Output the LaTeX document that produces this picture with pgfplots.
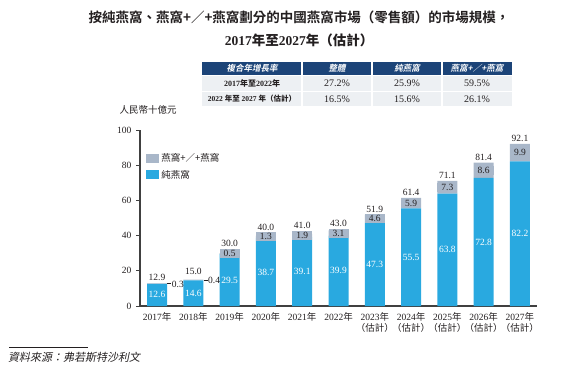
\documentclass[border=0pt]{standalone}
\usepackage{fontspec}
\setmainfont{Liberation Serif}
\newfontfamily\cjk{Noto Sans CJK TC}
\newfontfamily\cjkb{Noto Sans CJK TC Bold}
\newfontfamily\cjki{Noto Sans CJK TC}[FakeSlant=0.2]
\newfontfamily\cjkbi{Noto Sans CJK TC Bold}[FakeSlant=0.2]
\usepackage{pgfplots}
\usepackage{pgfplotstable}
\pgfplotsset{compat=1.18}
\definecolor{barblue}{HTML}{29A9E0}
\definecolor{bargray}{HTML}{A9B7C9}
\definecolor{navy}{HTML}{1C4478}
\definecolor{rowgray}{HTML}{EDF0F3}
\definecolor{axisgray}{HTML}{404040}
\definecolor{txt}{HTML}{231F20}
\newcommand\C[1]{{\cjk #1}}
\newcommand\CB[1]{{\cjkb #1}}
\tikzset{
  bl/.style={text=white, font=\fontsize{9.5}{10}\selectfont},
  gl/.style={text=txt, fill=bargray, minimum width=20pt, minimum height=9pt, inner sep=0pt, font=\fontsize{9.5}{10}\selectfont},
  tl/.style={text=txt, anchor=south, inner sep=1pt, font=\fontsize{9.5}{10}\selectfont},
}
\pgfplotstableread{
x blue gray total
0 12.6 0.3 12.9
1 14.6 0.4 15.0
2 29.5 0.5 30.0
3 38.7 1.3 40.0
4 39.1 1.9 41.0
5 39.9 3.1 43.0
6 47.3 4.6 51.9
7 55.5 5.9 61.4
8 63.8 7.3 71.1
9 72.8 8.6 81.4
10 82.2 9.9 92.1
}\data
\begin{document}
\begin{tikzpicture}
\path[use as bounding box] (0,0) rectangle (572pt,-367pt);
\begin{scope}[x=1pt,y=-1pt]
% title
\node[font=\cjkb\fontsize{13.5}{15}\selectfont, text=txt] at (299,17) {按純燕窩、燕窩+／+燕窩劃分的中國燕窩市場（零售額）的市場規模，};
\node[font=\fontsize{13.5}{15}\selectfont\bfseries, text=txt] at (299,40) {2017\CB{年至}2027\CB{年（估計）}};
% table
\fill[navy] (202,62) rectangle (512,75);
\fill[rowgray] (202,76) rectangle (512,90.5);
\fill[rowgray] (202,91.5) rectangle (512,106);
\foreach \xx in {302,372,442} \draw[white, line width=1.2pt] (\xx,62) -- (\xx,106);
\node[text=white, font=\cjkbi\fontsize{8.5}{9}\selectfont] at (252,68.5) {複合年增長率};
\node[text=white, font=\cjkbi\fontsize{8.5}{9}\selectfont] at (337,68.5) {整體};
\node[text=white, font=\cjkbi\fontsize{8.5}{9}\selectfont] at (407,68.5) {純燕窩};
\node[text=white, font=\cjkbi\fontsize{8.5}{9}\selectfont] at (477,68.5) {燕窩+／+燕窩};
\node[text=txt, font=\fontsize{8}{9}\selectfont\bfseries] at (252,83.3) {2017\CB{年至}2022\CB{年}};
\node[text=txt, font=\fontsize{7.5}{9}\selectfont\bfseries] at (252,98.8) {2022 \CB{年至} 2027 \CB{年（估計）}};
\node[text=txt, font=\fontsize{10}{10}\selectfont] at (337,83.3) {27.2\%};
\node[text=txt, font=\fontsize{10}{10}\selectfont] at (407,83.3) {25.9\%};
\node[text=txt, font=\fontsize{10}{10}\selectfont] at (477,83.3) {59.5\%};
\node[text=txt, font=\fontsize{10}{10}\selectfont] at (337,98.8) {16.5\%};
\node[text=txt, font=\fontsize{10}{10}\selectfont] at (407,98.8) {15.6\%};
\node[text=txt, font=\fontsize{10}{10}\selectfont] at (477,98.8) {26.1\%};
% unit label
\node[text=txt, font=\cjk\fontsize{9.5}{11}\selectfont, anchor=west] at (116,110) {人民幣十億元};
% source
\draw[txt, line width=0.6pt] (9,347) -- (88,347);
\node[text=txt, font=\cjki\fontsize{11}{12}\selectfont, anchor=west, inner sep=0pt] at (8,357) {資料來源：弗若斯特沙利文};
\end{scope}
\begin{axis}[
  at={(140pt,-306pt)}, anchor=south west,
  scale only axis, width=397pt, height=176pt,
  xmin=-0.47, xmax=10.47, ymin=0, ymax=100,
  ybar stacked, bar width=20pt,
  axis lines*=left,
  axis line style={axisgray, line width=1.1pt},
  x axis line style={line width=1.4pt},
  xtick=data,
  xticklabels={2017\C{年},2018\C{年},2019\C{年},2020\C{年},2021\C{年},2022\C{年},
    {2023\C{年}\\\C{（估計）}},{2024\C{年}\\\C{（估計）}},{2025\C{年}\\\C{（估計）}},
    {2026\C{年}\\\C{（估計）}},{2027\C{年}\\\C{（估計）}}},
  xticklabel style={align=center, font=\fontsize{9.5}{10.5}\selectfont, yshift=1pt, text=txt},
  x tick style={draw=none},
  ytick={0,20,40,60,80,100},
  y tick style={axisgray, line width=0.9pt},
  major tick length=4pt,
  tick align=outside,
  yticklabel style={font=\fontsize{9.5}{11}\selectfont, xshift=-1pt, text=txt},
  /pgf/number format/assume math mode=true,
  reverse legend,
  legend cell align=left,
  legend style={at={(0.008,0.89)}, anchor=north west, draw=none, fill=none,
    font=\cjk\fontsize{9.5}{11}\selectfont, row sep=3pt, text=txt,
    /tikz/every even column/.append style={column sep=2pt}},
  legend image code/.code={\fill[#1] (0pt,-4.5pt) rectangle (13pt,4.5pt);},
  clip=false,
]
\addplot[fill=barblue, draw=none] table[x=x, y=blue]{\data};
\addlegendentry{\C{純燕窩}}
\addplot[fill=bargray, draw=none] table[x=x, y=gray]{\data};
\addlegendentry{\C{燕窩+／+燕窩}}
% anchor coordinates for labels
\coordinate (b0) at (axis cs:0,6.3);
\coordinate (b1) at (axis cs:1,7.3);
\coordinate (b2) at (axis cs:2,14.75);
\coordinate (b3) at (axis cs:3,19.35);
\coordinate (b4) at (axis cs:4,19.55);
\coordinate (b5) at (axis cs:5,19.95);
\coordinate (b6) at (axis cs:6,23.65);
\coordinate (b7) at (axis cs:7,27.75);
\coordinate (b8) at (axis cs:8,31.9);
\coordinate (b9) at (axis cs:9,36.4);
\coordinate (b10) at (axis cs:10,41.1);
\coordinate (g2) at (axis cs:2,29.75);
\coordinate (g3) at (axis cs:3,39.35);
\coordinate (g4) at (axis cs:4,40.05);
\coordinate (g5) at (axis cs:5,41.45);
\coordinate (g6) at (axis cs:6,49.6);
\coordinate (g7) at (axis cs:7,58.45);
\coordinate (g8) at (axis cs:8,67.45);
\coordinate (g9) at (axis cs:9,77.1);
\coordinate (g10) at (axis cs:10,87.15);
\coordinate (s0a) at (axis cs:0.28,12.75);
\coordinate (s0b) at (axis cs:0.39,12.75);
\coordinate (s1a) at (axis cs:1.28,14.8);
\coordinate (s1b) at (axis cs:1.39,14.8);
\coordinate (t0) at (axis cs:0,13.6);
\coordinate (t1) at (axis cs:1,17.0);
\coordinate (t2) at (axis cs:2,33.2);
\coordinate (t3) at (axis cs:3,42.4);
\coordinate (t4) at (axis cs:4,43.1);
\coordinate (t5) at (axis cs:5,44.5);
\coordinate (t6) at (axis cs:6,52.6);
\coordinate (t7) at (axis cs:7,62.1);
\coordinate (t8) at (axis cs:8,71.8);
\coordinate (t9) at (axis cs:9,82.1);
\coordinate (t10) at (axis cs:10,92.8);
\end{axis}
% blue segment labels
\node[bl] at (b0) {12.6};
\node[bl] at (b1) {14.6};
\node[bl] at (b2) {29.5};
\node[bl] at (b3) {38.7};
\node[bl] at (b4) {39.1};
\node[bl] at (b5) {39.9};
\node[bl] at (b6) {47.3};
\node[bl] at (b7) {55.5};
\node[bl] at (b8) {63.8};
\node[bl] at (b9) {72.8};
\node[bl] at (b10) {82.2};
% gray segment labels
\node[gl] at (g2) {0.5};
\node[gl] at (g3) {1.3};
\node[gl] at (g4) {1.9};
\node[gl] at (g5) {3.1};
\node[gl] at (g6) {4.6};
\node[gl] at (g7) {5.9};
\node[gl] at (g8) {7.3};
\node[gl] at (g9) {8.6};
\node[gl] at (g10) {9.9};
% small outside labels
\draw[txt, line width=0.6pt] (s0a) -- (s0b);
\node[text=txt, anchor=west, inner sep=0.5pt, font=\fontsize{9.5}{10}\selectfont] at ([yshift=-0.6pt]s0b) {0.3};
\draw[txt, line width=0.6pt] (s1a) -- (s1b);
\node[text=txt, anchor=west, inner sep=0.5pt, font=\fontsize{9.5}{10}\selectfont] at ([yshift=-0.6pt]s1b) {0.4};
% totals
\node[tl] at (t0) {12.9};
\node[tl] at (t1) {15.0};
\node[tl] at (t2) {30.0};
\node[tl] at (t3) {40.0};
\node[tl] at (t4) {41.0};
\node[tl] at (t5) {43.0};
\node[tl] at (t6) {51.9};
\node[tl] at (t7) {61.4};
\node[tl] at (t8) {71.1};
\node[tl] at (t9) {81.4};
\node[tl] at (t10) {92.1};
\end{tikzpicture}
\end{document}
